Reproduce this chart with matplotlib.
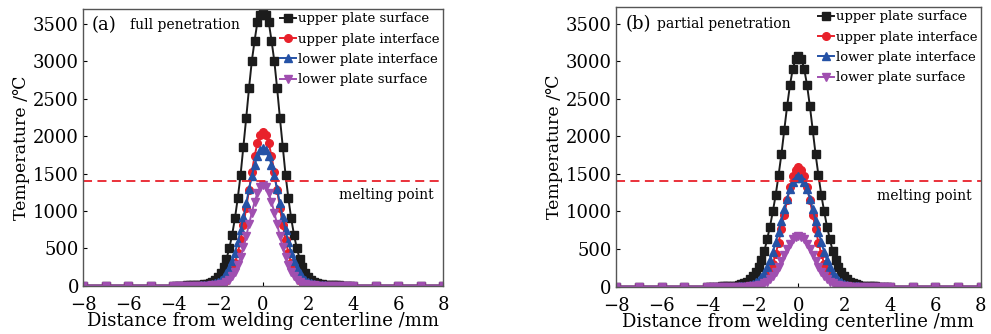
import matplotlib
matplotlib.use("Agg")
import matplotlib.pyplot as plt
import numpy as np

plt.rcParams['font.family'] = ['DejaVu Serif', 'DejaVu Sans']
plt.rcParams['mathtext.fontset'] = 'dejavuserif'

# distance from centre line (mm), one side; the profiles are symmetric
x_far = [5, 6, 7, 8]
x_near = [0, 0.125, 0.25, 0.375, 0.5, 0.625, 0.75, 0.875, 1.0, 1.125, 1.25,
          1.375, 1.5, 1.625, 1.75, 1.875, 2.0, 2.125, 2.25, 2.375, 2.5, 2.625,
          2.75, 2.875, 3.0, 3.125, 3.25, 3.375, 3.5, 3.625, 3.75, 3.875, 4.0]

# (a) full penetration, temperatures read at x_near then x_far
full_ups = [3650, 3620, 3530, 3280, 3005, 2640, 2240, 1860, 1480, 1170, 900,
            680, 500, 360, 250, 170, 115, 78, 52, 35, 24, 16, 11, 7, 5, 3, 2,
            2, 1, 1, 1, 0, 0]
full_upi = [2060, 2021, 1910, 1735, 1518, 1279, 1036, 810, 608, 439, 305,
            205, 132, 82, 49, 28, 16, 8, 4, 2, 1, 1, 0, 0, 0, 0, 0, 0, 0, 0,
            0, 0, 0]
full_lpi = [1840, 1814, 1737, 1619, 1465, 1288, 1100, 914, 738, 580, 442,
            328, 236, 165, 112, 74, 48, 30, 18, 11, 6, 3, 2, 1, 1, 0, 0, 0,
            0, 0, 0, 0, 0]
full_lps = [1340, 1314, 1238, 1123, 978, 819, 661, 511, 381, 272, 188, 124,
            79, 48, 28, 16, 9, 5, 2, 1, 0, 0, 0, 0, 0, 0, 0, 0, 0, 0, 0, 0, 0]

# (b) partial penetration
part_ups = [3070, 3030, 2900, 2680, 2400, 2080, 1760, 1480, 1220, 1000, 800,
            630, 470, 350, 260, 190, 135, 95, 65, 45, 30, 20, 14, 9, 6, 4, 3,
            2, 1, 1, 1, 0, 0]
part_upi = [1590, 1558, 1466, 1324, 1150, 957, 765, 587, 434, 307, 208, 136,
            85, 51, 30, 16, 9, 4, 2, 1, 0, 0, 0, 0, 0, 0, 0, 0, 0, 0, 0, 0, 0]
part_lpi = [1470, 1449, 1388, 1294, 1170, 1029, 879, 731, 589, 463, 353, 262,
            188, 132, 90, 59, 38, 24, 14, 9, 5, 3, 1, 1, 0, 0, 0, 0, 0, 0, 0,
            0, 0]
part_lps = [680, 667, 630, 573, 501, 422, 342, 267, 201, 145, 101, 68, 44, 27,
            16, 9, 5, 3, 1, 1, 0, 0, 0, 0, 0, 0, 0, 0, 0, 0, 0, 0, 0]
far_vals = [0, 0, 0, 0]

labels = ['upper plate surface', 'upper plate interface',
          'lower plate interface', 'lower plate surface']
colors = ['#1c1c1c', '#e8212b', '#2552a6', '#a04fb0']
markers = ['s', 'o', '^', 'v']
melting = 1400


def full_profile(half):
    xs = [-v for v in x_far[::-1]] + [-v for v in x_near[:0:-1]] + x_near + x_far
    ys = far_vals[::-1] + half[:0:-1] + half + far_vals
    return xs, ys


fig = plt.figure(figsize=(9.91, 3.34), dpi=100)
ax1 = fig.add_axes([0.0838, 0.1437, 0.3633, 0.829])
ax2 = fig.add_axes([0.6216, 0.1407, 0.3683, 0.838])

panels = [
    (ax1, [full_ups, full_upi, full_lpi, full_lps], '(a)', 'full penetration', 3700, -5.9),
    (ax2, [part_ups, part_upi, part_lpi, part_lps], '(b)', 'partial penetration', 3720, -6.2),
]

for ax, series, tag, title, ytop, tx in panels:
    for vals, lab, c, m in zip(series, labels, colors, markers):
        xs, ys = full_profile(vals)
        ax.plot(xs, ys, color=c, marker=m, markersize=5.5, linewidth=1.4,
                label=lab)
    ax.axhline(melting, color='#e8212b', linestyle=(0, (5, 3)), linewidth=1.3)
    ax.text(7.6, 1210, 'melting point', ha='right', va='center', fontsize=10)
    ax.text(-7.6, 3490, tag, ha='left', va='center', fontsize=13)
    ax.text(tx, 3490, title, ha='left', va='center', fontsize=10)
    ax.set_xlim(-8, 8)
    ax.set_ylim(-5, ytop)
    ax.set_xticks([-8, -6, -4, -2, 0, 2, 4, 6, 8])
    ax.set_yticks([0, 500, 1000, 1500, 2000, 2500, 3000, 3500])
    ax.tick_params(direction='in', labelsize=13, length=3)
    ax.tick_params(axis='x', pad=7)
    ax.tick_params(axis='y', pad=3)
    for s in ax.spines.values():
        s.set_color('#555555')
        s.set_linewidth(1.0)
    ax.set_xlabel('Distance from welding centerline /mm', fontsize=13,
                  labelpad=-1)
    ax.set_ylabel('Temperature /\u2103', fontsize=12.5, labelpad=2)
    ax.legend(loc='upper right', frameon=False, fontsize=9.5, handlelength=1.2,
              handletextpad=0.2, borderaxespad=0.1, borderpad=0.15,
              labelspacing=0.55, markerscale=1.0)

fig.savefig('out.png', dpi=100)
